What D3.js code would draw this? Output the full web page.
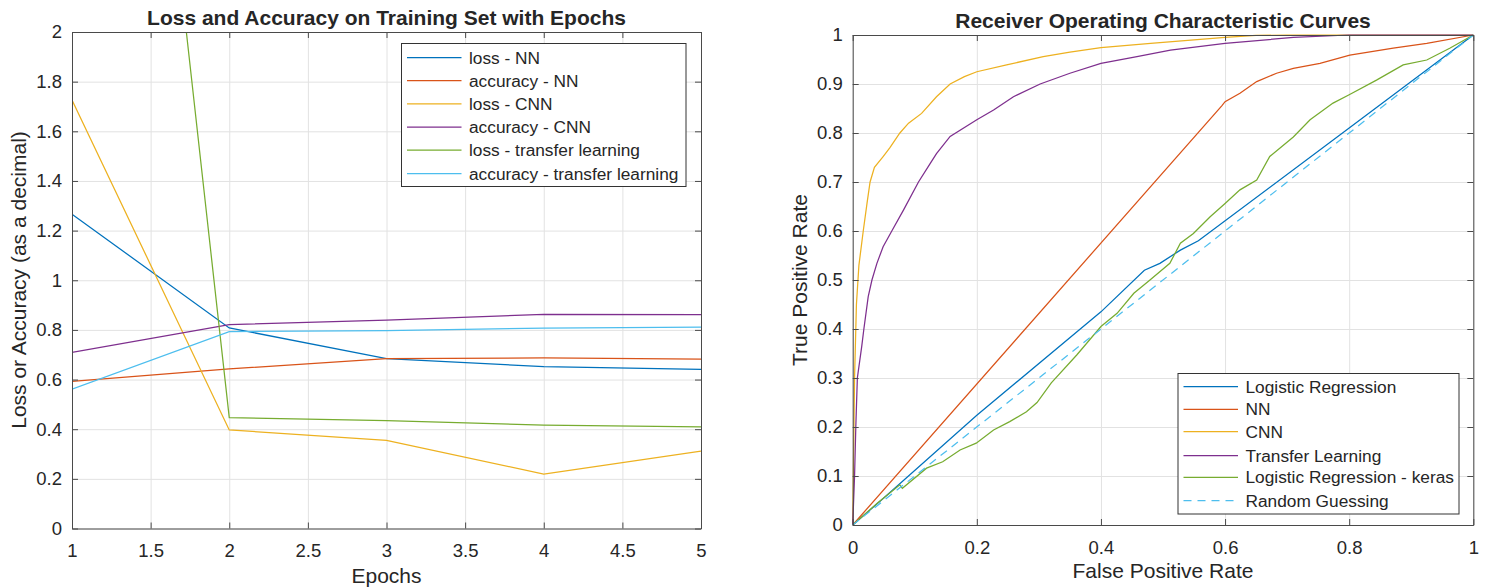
<!DOCTYPE html>
<html>
<head>
<meta charset="utf-8">
<title>Loss/Accuracy and ROC curves</title>
<script src="https://cdn.jsdelivr.net/npm/d3@7/dist/d3.min.js"></script>
<style>
	body { margin: 0; background: #fff; }
	svg text { font-family: "Liberation Sans", Arial, sans-serif; fill: #262626; }
	.grid line { stroke: #e2e2e2; stroke-width: 1; }
	.grid path { display: none; }
	.ax path, .ax line { stroke: #4a4a4a; stroke-width: 1; }
	.ax text { font-size: 18.5px; }
	.title { font-size: 21px; font-weight: bold; }
	.label { font-size: 21px; }
	.legend text { font-size: 17.3px; }
	.series { fill: none; stroke-width: 1.25; }
</style>
</head>
<body>
<svg id="chart" width="1488" height="588"></svg>
<script>
// ---- left chart data: loss / accuracy per epoch
const epochs = [1, 2, 3, 4, 5];
const lossNN = [1.266, 0.808, 0.684, 0.652, 0.641];
const accNN = [0.593, 0.643, 0.684, 0.687, 0.682];
const lossCNN = [1.726, 0.397, 0.355, 0.219, 0.312];
const accCNN = [0.709, 0.821, 0.839, 0.863, 0.862];
const lossTL = [6.14, 0.447, 0.435, 0.416, 0.409];
const accTL = [0.561, 0.793, 0.797, 0.807, 0.811];
const leftNames = ['loss - NN', 'accuracy - NN', 'loss - CNN', 'accuracy - CNN',
	'loss - transfer learning', 'accuracy - transfer learning'];
const leftX = [1, 1.5, 2, 2.5, 3, 3.5, 4, 4.5, 5];
const leftY = [0, 0.2, 0.4, 0.6, 0.8, 1, 1.2, 1.4, 1.6, 1.8, 2];

// ---- right chart data: ROC curves as [fpr, tpr]
const rocLR = [[0, 0], [0.05, 0.055], [0.2, 0.224], [0.4, 0.435], [0.47, 0.52], [0.495, 0.534],
	[0.528, 0.561], [0.557, 0.58], [0.8, 0.81], [1, 1]];
const rocNN = [[0, 0], [0.595, 0.856], [0.6, 0.864], [0.624, 0.881], [0.651, 0.905], [0.683, 0.922],
	[0.71, 0.932], [0.753, 0.942], [0.801, 0.959], [0.871, 0.973], [0.925, 0.983], [1, 1]];
const rocCNN = [[0, 0], [0.001, 0.1], [0.003, 0.3], [0.006, 0.45], [0.01, 0.53], [0.017, 0.6],
	[0.023, 0.656], [0.028, 0.7], [0.035, 0.73], [0.049, 0.752], [0.06, 0.77], [0.076, 0.8],
	[0.09, 0.82], [0.111, 0.84], [0.135, 0.874], [0.157, 0.9], [0.18, 0.915], [0.2, 0.925],
	[0.248, 0.939], [0.307, 0.956], [0.35, 0.965], [0.4, 0.974], [0.48, 0.983], [0.55, 0.99],
	[0.6, 0.995], [0.65, 0.999], [0.7, 1], [1, 1]];
const rocTL = [[0, 0], [0.003, 0.1], [0.005, 0.2], [0.0075, 0.3], [0.0145, 0.364], [0.018, 0.4],
	[0.025, 0.466], [0.031, 0.5], [0.039, 0.534], [0.049, 0.568], [0.063, 0.6], [0.082, 0.643],
	[0.106, 0.7], [0.125, 0.738], [0.135, 0.758], [0.157, 0.793], [0.2, 0.827], [0.227, 0.847],
	[0.259, 0.874], [0.302, 0.9], [0.35, 0.922], [0.4, 0.942], [0.458, 0.956], [0.512, 0.969],
	[0.6, 0.983], [0.71, 0.995], [0.8, 1], [1, 1]];
const rocKeras = [[0, 0], [0.04, 0.045], [0.076, 0.082], [0.08, 0.075], [0.119, 0.116], [0.145, 0.129],
	[0.173, 0.153], [0.199, 0.167], [0.227, 0.194], [0.253, 0.211], [0.28, 0.231], [0.297, 0.25],
	[0.32, 0.29], [0.361, 0.347], [0.4, 0.405], [0.426, 0.432], [0.453, 0.473], [0.479, 0.5],
	[0.511, 0.534], [0.528, 0.575], [0.549, 0.595], [0.576, 0.629], [0.6, 0.656], [0.624, 0.684],
	[0.651, 0.704], [0.672, 0.752], [0.71, 0.792], [0.737, 0.827], [0.774, 0.861], [0.8, 0.878],
	[0.844, 0.908], [0.887, 0.939], [0.925, 0.949], [0.962, 0.973], [1, 1]];
const rocRandom = [[0, 0], [1, 1]];
const rightNames = ['Logistic Regression', 'NN', 'CNN', 'Transfer Learning',
	'Logistic Regression - keras', 'Random Guessing'];
const rightX = [0, 0.2, 0.4, 0.6, 0.8, 1];
const rightY = [0, 0.1, 0.2, 0.3, 0.4, 0.5, 0.6, 0.7, 0.8, 0.9, 1];

// MATLAB default colour order
const colors = ['#0072BD', '#D95319', '#EDB120', '#7E2F8E', '#77AC30', '#4DBEEE'];

var svg = d3.select('#chart');
var fmt = d => String(+d.toFixed(2));

function frame(g, x, y, xt, yt) {
	var [l, r] = x.range(), [b, t] = y.range();
	g.append('g').attr('class', 'grid').attr('transform', `translate(0,${b})`)
		.call(d3.axisBottom(x).tickValues(xt).tickSize(-(b - t)).tickFormat(''));
	g.append('g').attr('class', 'grid').attr('transform', `translate(${l},0)`)
		.call(d3.axisLeft(y).tickValues(yt).tickSize(-(r - l)).tickFormat(''));
}

function axes(g, x, y, xt, yt) {
	var [l, r] = x.range(), [b, t] = y.range();
	g.append('g').attr('class', 'ax').attr('transform', `translate(0,${b})`)
		.call(d3.axisBottom(x).tickValues(xt).tickFormat(fmt).tickSizeInner(-6).tickSizeOuter(0).tickPadding(15.5));
	g.append('g').attr('class', 'ax').attr('transform', `translate(0,${t})`)
		.call(d3.axisTop(x).tickValues(xt).tickFormat('').tickSizeInner(-6).tickSizeOuter(0));
	g.append('g').attr('class', 'ax').attr('transform', `translate(${l},0)`)
		.call(d3.axisLeft(y).tickValues(yt).tickFormat(fmt).tickSizeInner(-6).tickSizeOuter(0).tickPadding(10));
	g.append('g').attr('class', 'ax').attr('transform', `translate(${r},0)`)
		.call(d3.axisRight(y).tickValues(yt).tickFormat('').tickSizeInner(-6).tickSizeOuter(0));
	g.selectAll('.ax .domain').attr('stroke', '#4a4a4a');
	g.selectAll('.ax text').attr('fill', '#262626');
}

function legend(g, names, x0, y0, w, h, rowY, dashes) {
	var lg = g.append('g').attr('class', 'legend');
	lg.append('rect').attr('x', x0).attr('y', y0).attr('width', w).attr('height', h)
		.attr('fill', '#fff').attr('stroke', '#333').attr('stroke-width', 1);
	names.forEach((n, i) => {
		var yy = y0 + rowY[i];
		lg.append('line').attr('x1', x0 + 5.5).attr('x2', x0 + 60).attr('y1', yy).attr('y2', yy)
			.attr('stroke', colors[i]).attr('stroke-width', 1.25)
			.attr('stroke-dasharray', dashes[i] || null);
		lg.append('text').attr('x', x0 + 67.5).attr('y', yy).attr('dy', '0.35em').text(n);
	});
}

// ---------------- left chart
var x1 = d3.scaleLinear().domain([1, 5]).range([72, 701]);
var y1 = d3.scaleLinear().domain([0, 2]).range([528.5, 32]);
var g1 = svg.append('g');
frame(g1, x1, y1, leftX, leftY);

svg.append('clipPath').attr('id', 'clip1').append('rect')
	.attr('x', 72).attr('y', 32).attr('width', 629).attr('height', 496.5);

var line1 = d3.line().x((d, i) => x1(epochs[i])).y(d => y1(d));
var leftSeries = [lossNN, accNN, lossCNN, accCNN, lossTL, accTL];
g1.append('g').attr('clip-path', 'url(#clip1)')
	.selectAll('path').data(leftSeries).enter().append('path')
	.attr('class', 'series')
	.attr('stroke', (d, i) => colors[i])
	.attr('d', line1);

axes(g1, x1, y1, leftX, leftY);

g1.append('text').attr('class', 'title').attr('x', 386.5).attr('y', 25)
	.attr('text-anchor', 'middle').text('Loss and Accuracy on Training Set with Epochs');
g1.append('text').attr('class', 'label').attr('x', 386.5).attr('y', 583)
	.attr('text-anchor', 'middle').text('Epochs');
g1.append('text').attr('class', 'label').attr('transform', 'translate(26,280) rotate(-90)')
	.attr('text-anchor', 'middle').text('Loss or Accuracy (as a decimal)');

legend(g1, leftNames, 401.5, 43.5, 284.5, 143, [14, 37, 60.3, 83.5, 106.7, 130], []);

// ---------------- right chart
var x2 = d3.scaleLinear().domain([0, 1]).range([852.7, 1473.3]);
var y2 = d3.scaleLinear().domain([0, 1]).range([525, 35]);
var g2 = svg.append('g');
frame(g2, x2, y2, rightX, rightY);

var line2 = d3.line().x(d => x2(d[0])).y(d => y2(d[1]));
var rightSeries = [rocLR, rocNN, rocCNN, rocTL, rocKeras, rocRandom];
g2.append('g').selectAll('path').data(rightSeries).enter().append('path')
	.attr('class', 'series')
	.attr('stroke', (d, i) => colors[i])
	.attr('stroke-dasharray', (d, i) => i == 5 ? '8,6' : null)
	.attr('d', line2);

axes(g2, x2, y2, rightX, rightY);

g2.append('text').attr('class', 'title').attr('x', 1163).attr('y', 28)
	.attr('text-anchor', 'middle').text('Receiver Operating Characteristic Curves');
g2.append('text').attr('class', 'label').attr('x', 1163).attr('y', 578)
	.attr('text-anchor', 'middle').text('False Positive Rate');
g2.append('text').attr('class', 'label').attr('transform', 'translate(807,280) rotate(-90)')
	.attr('text-anchor', 'middle').text('True Positive Rate');

legend(g2, rightNames, 1178, 373.5, 281, 140.5, [13.2, 35.8, 58.2, 82.2, 103.8, 127.2],
	[null, null, null, null, null, '8,6']);
</script>
</body>
</html>
